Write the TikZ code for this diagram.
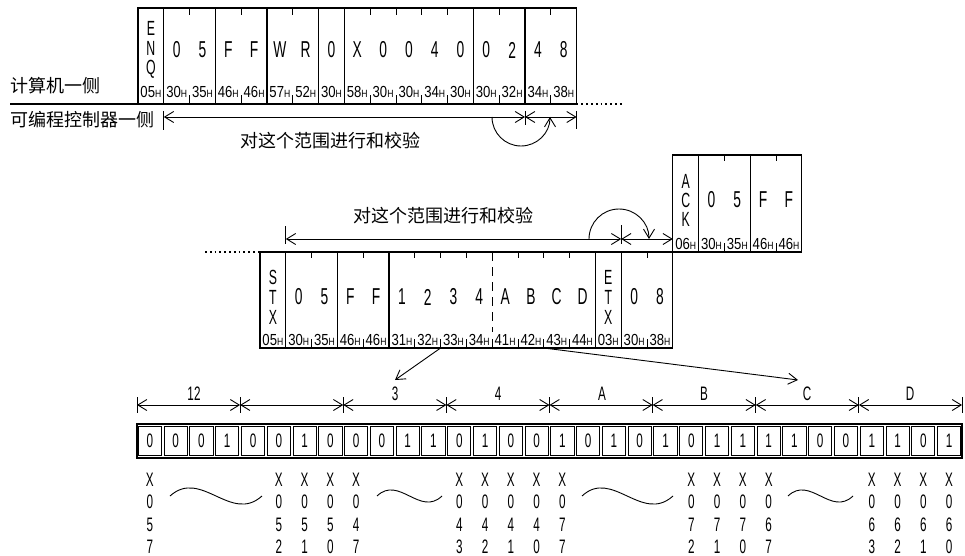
\documentclass[tikz,border=0pt]{standalone}
\usepackage{fontspec}
\usetikzlibrary{arrows.meta}
\newfontfamily\cf[FakeStretch=0.6]{Liberation Sans}
\newfontfamily\hf[FakeStretch=0.82]{Liberation Sans}
\newfontfamily\cjk{Noto Sans CJK SC}
\newcommand\hexlab[1]{#1{\fontsize{10.5}{10.5}\selectfont H}}
\begin{document}
\begin{tikzpicture}[x=1pt,y=-1pt,
  >={Straight Barb[length=9pt,width=11pt]},
  frame/.style={line width=1.2pt},
  tick/.style={line width=0.9pt},
  bar/.style={line width=0.9pt},
  dim/.style={line width=0.9pt,<->},
  conn/.style={line width=0.9pt,->},
  dotline/.style={line width=1.1pt,dash pattern=on 1.8pt off 3pt},
  big/.style={font=\cf\fontsize{23}{23}\selectfont,inner sep=0pt},
  stack/.style={font=\cf\fontsize{20.5}{20.5}\selectfont,inner sep=0pt},
  hex/.style={font=\hf\fontsize{16}{16}\selectfont,inner sep=0pt,anchor=base},
  bit/.style={font=\cf\fontsize{19.5}{19.5}\selectfont,inner sep=0pt},
  zh/.style={font=\cjk\fontsize{18}{18}\selectfont,inner sep=0pt},
  wave/.style={line width=0.9pt}]
\useasboundingbox (0,0) rectangle (965,556);
\fill[white] (0,0) rectangle (965,556);
\def\W{25.8}
% ---------------- top frame ----------------
\def\tx{138}
\draw[frame] (\tx,8) rectangle ({\tx+17*\W},104);
\draw[frame] (10,104) -- (\tx,104);
\coordinate (tEnd) at ({\tx+17*\W},104);
\coordinate (tDot) at (622,104);
\draw[dotline] (tEnd) -- (tDot);
\foreach \k in {1,3,5,7,8,13,15} \draw[frame] ({\tx+\k*\W},8) -- ({\tx+\k*\W},104);
\foreach \k in {2,4,6,9,10,11,12,14,16} {
  \draw[tick] ({\tx+\k*\W},8) -- ({\tx+\k*\W},15);
  \draw[tick] ({\tx+\k*\W},104) -- ({\tx+\k*\W},95);
}
\node[stack] (tE) at ({\tx+0.5*\W},28) {E};
\node[stack] (tN) at ({\tx+0.5*\W},48) {N};
\node[stack] (tQ) at ({\tx+0.5*\W},69.5) {Q};
\foreach \i/\c in {1/0,2/5,3/F,4/F,5/W,6/R,7/0,8/X,9/0,10/0,11/4,12/0,13/0,14/2,15/4,16/8}
  \node[big] (tc\i) at ({\tx+(\i+0.5)*\W},50) {\c};
\foreach \i/\h in {0/05,1/30,2/35,3/46,4/46,5/57,6/52,7/30,8/58,9/30,10/30,11/34,12/30,13/30,14/32,15/34,16/38}
  \node[hex] (th\i) at ({\tx+(\i+0.5)*\W},98) {\hexlab{\h}};
\node[zh,anchor=west] (pc) at (10,86) {计算机一侧};
\node[zh,anchor=west] (plc) at (10,120) {可编程控制器一侧};
% top range arrows
\coordinate (a1) at ({\tx+\W},117);
\coordinate (a2) at ({\tx+15*\W},117);
\coordinate (a3) at ({\tx+17*\W},117);
\draw[bar] ({\tx+\W},111) -- ({\tx+\W},130);
\draw[bar] ({\tx+15*\W},111) -- ({\tx+15*\W},125);
\draw[bar] ({\tx+17*\W},111) -- ({\tx+17*\W},129);
\draw[dim] (a1) -- (a2);
\draw[dim] (a2) -- (a3);
\coordinate (c1) at (492,117);
\draw[conn] (c1) arc[start angle=180,end angle=360,radius=29pt];
\node[zh] (r1) at (330,141) {对这个范围进行和校验};
% ---------------- middle frame ----------------
\def\mx{260}
\draw[frame] (\mx,252) rectangle ({\mx+16*\W},348);
\coordinate (mL) at (\mx,252);
\coordinate (mDot) at (205,252);
\draw[dotline] (mDot) -- (mL);
\foreach \k in {1,3,5,13,14} \draw[frame] ({\mx+\k*\W},252) -- ({\mx+\k*\W},348);
\foreach \k in {2,4,6,7,8,10,11,12,15} {
  \draw[tick] ({\mx+\k*\W},252) -- ({\mx+\k*\W},258);
  \draw[tick] ({\mx+\k*\W},348) -- ({\mx+\k*\W},339);
}
\draw[tick,dash pattern=on 9pt off 6pt] ({\mx+9*\W},252) -- ({\mx+9*\W},332);
\draw[tick] ({\mx+9*\W},348) -- ({\mx+9*\W},339);
\node[stack] (mS) at ({\mx+0.5*\W},277) {S};
\node[stack] (mT) at ({\mx+0.5*\W},297) {T};
\node[stack] (mX) at ({\mx+0.5*\W},317) {X};
\node[stack] (mE2) at ({\mx+13.5*\W},277) {E};
\node[stack] (mT2) at ({\mx+13.5*\W},297) {T};
\node[stack] (mX2) at ({\mx+13.5*\W},317) {X};
\foreach \i/\c in {1/0,2/5,3/F,4/F,5/1,6/2,7/3,8/4,9/A,10/B,11/C,12/D,14/0,15/8}
  \node[big] (mc\i) at ({\mx+(\i+0.5)*\W},297) {\c};
\foreach \i/\h in {0/05,1/30,2/35,3/46,4/46,5/31,6/32,7/33,8/34,9/41,10/42,11/43,12/44,13/03,14/30,15/38}
  \node[hex] (mh\i) at ({\mx+(\i+0.5)*\W},345) {\hexlab{\h}};
% middle range arrows
\coordinate (b1) at ({\mx+\W},239);
\coordinate (b2) at ({\mx+14*\W},239);
\coordinate (b3) at ({\mx+16*\W},239);
\draw[bar] ({\mx+\W},226) -- ({\mx+\W},244);
\draw[bar] ({\mx+14*\W},225) -- ({\mx+14*\W},244);
\draw[dim] (b1) -- (b2);
\draw[dim] (b2) -- (b3);
\coordinate (c2) at (589,239);
\draw[conn] (c2) arc[start angle=180,end angle=0,radius=30pt];
\node[zh] (r2) at (443,216) {对这个范围进行和校验};
% ---------------- ACK frame ----------------
\def\ax{672.8}
\draw[frame] (\ax,155) rectangle ({\ax+5*\W},252);
\foreach \k in {1,3} \draw[frame] ({\ax+\k*\W},155) -- ({\ax+\k*\W},252);
\foreach \k in {2,4} {
  \draw[tick] ({\ax+\k*\W},155) -- ({\ax+\k*\W},161);
  \draw[tick] ({\ax+\k*\W},252) -- ({\ax+\k*\W},243);
}
\node[stack] (kA) at ({\ax+0.5*\W},181) {A};
\node[stack] (kC) at ({\ax+0.5*\W},200) {C};
\node[stack] (kK) at ({\ax+0.5*\W},219) {K};
\foreach \i/\c in {1/0,2/5,3/F,4/F}
  \node[big] (kc\i) at ({\ax+(\i+0.5)*\W},200) {\c};
\foreach \i/\h in {0/06,1/30,2/35,3/46,4/46}
  \node[hex] (kh\i) at ({\ax+(\i+0.5)*\W},249) {\hexlab{\h}};
% ---------------- bit row ----------------
\def\bx{137}
\def\B{25.78125}
\draw[frame] (\bx,424) rectangle (962,458);
\foreach \i/\v in {0/0,1/0,2/0,3/1,4/0,5/0,6/1,7/0,8/0,9/0,10/1,11/1,12/0,13/1,14/0,15/0,16/1,17/0,18/1,19/0,20/1,21/0,22/1,23/1,24/1,25/1,26/0,27/0,28/1,29/1,30/0,31/1} {
  \draw[line width=0.9pt] ({\bx+\i*\B+1.3},426.8) rectangle ({\bx+(\i+1)*\B-1.3},455.2);
  \node[bit] (bit\i) at ({\bx+(\i+0.5)*\B},441) {\v};
}
% dimension row
\foreach \k in {0,...,8} {
  \coordinate (d\k) at ({\bx+4*\k*\B},405);
  \draw[bar] ({\bx+4*\k*\B},397) -- ({\bx+4*\k*\B},413);
}
\foreach \k [evaluate=\k as \kn using int(\k+1)] in {0,...,7}
  \draw[dim] (d\k) -- (d\kn);
\node[bit] (l12) at (194,394) {12};
\node[bit] (l3) at (395,394) {3};
\node[bit] (l4) at (498,394) {4};
\node[bit] (lA) at (602,394) {A};
\node[bit] (lB) at (704,394) {B};
\node[bit] (lC) at (807,394) {C};
\node[bit] (lD) at (910,394) {D};
% X labels
\foreach \b/\p/\q in {0/5/7,5/5/2,6/5/1,7/5/0,8/4/7,12/4/3,13/4/2,14/4/1,15/4/0,16/7/7,21/7/2,22/7/1,23/7/0,24/6/7,28/6/3,29/6/2,30/6/1,31/6/0} {
  \node[bit] (x\b a) at ({\bx+(\b+0.5)*\B},480) {X};
  \node[bit] (x\b b) at ({\bx+(\b+0.5)*\B},502) {0};
  \node[bit] (x\b c) at ({\bx+(\b+0.5)*\B},525) {\p};
  \node[bit] (x\b d) at ({\bx+(\b+0.5)*\B},547) {\q};
}
% waves
\coordinate (w1a) at (170,496); \coordinate (w1b) at (262,496);
\draw[wave] (w1a) .. controls (201,468) and (231,524) .. (w1b);
\coordinate (w2a) at (377,496); \coordinate (w2b) at (442,496);
\draw[wave] (w2a) .. controls (399,475) and (420,517) .. (w2b);
\coordinate (w3a) at (582,496); \coordinate (w3b) at (673,496);
\draw[wave] (w3a) .. controls (612,468) and (642,524) .. (w3b);
\coordinate (w4a) at (788,496); \coordinate (w4b) at (853,496);
\draw[wave] (w4a) .. controls (810,475) and (831,517) .. (w4b);
% connectors to bit row
\coordinate (s1) at ({\mx+7*\W},348);
\coordinate (e1) at (395,380);
\draw[conn] (s1) -- (e1);
\coordinate (s2) at ({\mx+11*\W},348);
\coordinate (e2) at (798,380);
\draw[conn] (s2) -- (e2);
\end{tikzpicture}
\end{document}
